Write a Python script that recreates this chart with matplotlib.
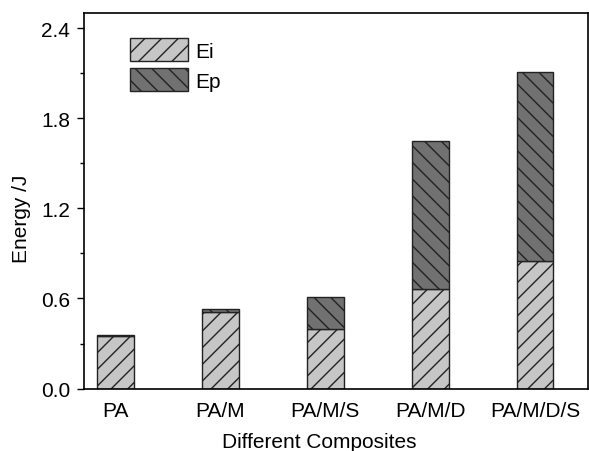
import numpy as np
import matplotlib
matplotlib.use("Agg")
import matplotlib.pyplot as plt

plt.rcParams['font.family'] = ['Liberation Sans', 'DejaVu Sans']
plt.rcParams['hatch.linewidth'] = 1.0

composites = ['PA', 'PA/M', 'PA/M/S', 'PA/M/D', 'PA/M/D/S']
ei = [0.35, 0.51, 0.40, 0.66, 0.85]
ep = [0.01, 0.017, 0.21, 0.99, 1.26]

fig = plt.figure(figsize=(5.89, 4.52), dpi=100)
ax = fig.add_axes([0.1426, 0.138, 0.855, 0.831])

x = np.arange(len(composites))
w = 0.35
ax.bar(x, ei, w, color='#c6c6c6', edgecolor='#222222', linewidth=1.0,
       hatch='//', label='Ei')
ax.bar(x, ep, w, bottom=ei, color='#717171', edgecolor='#222222',
       linewidth=1.0, hatch='\\\\', label='Ep')

ax.set_xlim(-0.3, 4.5)
ax.set_ylim(0, 2.5)
ax.set_yticks([0.0, 0.6, 1.2, 1.8, 2.4])
ax.set_yticks([0.3, 0.9, 1.5, 2.1], minor=True)
ax.set_xticks(x)
ax.set_xticklabels(composites)
ax.tick_params(axis='y', which='major', direction='out', length=5, width=1,
               labelsize=15, pad=5)
ax.tick_params(axis='y', which='minor', direction='out', length=3, width=1)
ax.tick_params(axis='x', length=0, labelsize=15, pad=9)
for s in ax.spines.values():
    s.set_linewidth(1.2)

ax.set_xlabel('Different Composites', fontsize=15)
ax.xaxis.set_label_coords(0.467, -0.115)
ax.set_ylabel('Energy /J', fontsize=15)
ax.yaxis.set_label_coords(-0.105, 0.455)

ax.legend(loc='upper left', bbox_to_anchor=(0.075, 0.955), frameon=False,
          fontsize=15, handlelength=2.8, handleheight=1.3, labelspacing=0.35,
          handletextpad=0.35, borderaxespad=0)

fig.savefig('out.png', dpi=100)
